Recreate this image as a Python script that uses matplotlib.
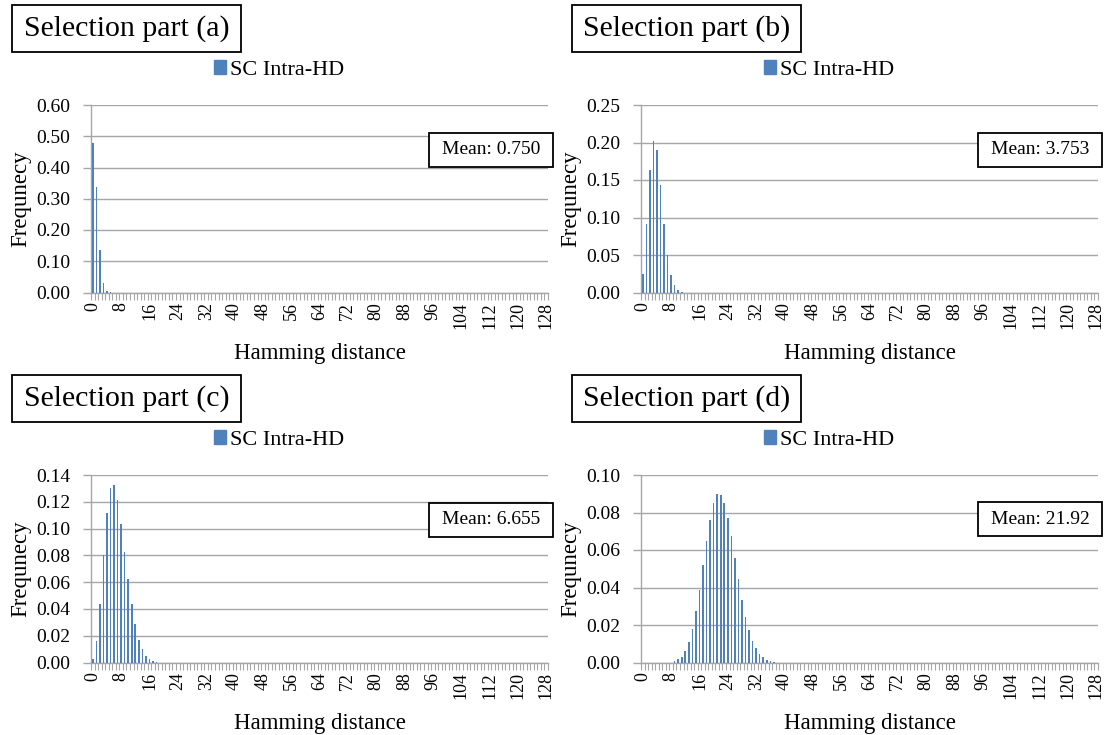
import numpy as np
import matplotlib.pyplot as plt
from matplotlib.patches import Patch, Rectangle

plt.rcParams['font.family'] = ['Liberation Serif', 'DejaVu Serif']

# Hamming distance categories 0..128
n_bits = 128
dist = np.arange(n_bits + 1)

# Frequencies (non-zero part only, starting at given distance)
start_a = 0
freq_a = [0.480, 0.338, 0.137, 0.032, 0.005, 0.001]

start_b = 0
freq_b = [0.025, 0.092, 0.164, 0.202, 0.190, 0.144, 0.091, 0.050, 0.024,
          0.010, 0.0036, 0.001]

start_c = 0
freq_c = [0.0025, 0.016, 0.0435, 0.080, 0.112, 0.130, 0.1327, 0.1215, 0.1035,
          0.0827, 0.062, 0.0435, 0.0285, 0.017, 0.0098, 0.0047, 0.0025,
          0.0012, 0.0005]

start_d = 9
freq_d = [0.0007, 0.0018, 0.003, 0.0063, 0.0109, 0.0179, 0.0275, 0.0389,
          0.052, 0.0646, 0.0759, 0.0852, 0.0898, 0.0896, 0.0852, 0.0771,
          0.0673, 0.0555, 0.0443, 0.0334, 0.0245, 0.0175, 0.0116, 0.0077,
          0.0045, 0.0027, 0.0016, 0.0007, 0.0004]

titles = ['Selection part (a)', 'Selection part (b)',
          'Selection part (c)', 'Selection part (d)']
means = ['Mean: 0.750', 'Mean: 3.753', 'Mean: 6.655', 'Mean: 21.92']
y_max = [0.60, 0.25, 0.14, 0.10]
y_step = [0.10, 0.05, 0.02, 0.02]
series_name = 'SC Intra-HD'

bar_color = '#4F81BD'
grid_color = '#A6A6A6'

W, H = 1113, 735
fig = plt.figure(figsize=(W / 100, H / 100), dpi=100)


def fx(px):
    return px / W


def fy(py):
    return 1 - py / H


def full(start, vals):
    f = np.zeros(len(dist))
    f[start:start + len(vals)] = vals
    return f


def box(x0, y0, w, h, text, size):
    fig.patches.append(Rectangle((fx(x0), fy(y0 + h)), w / W, h / H,
                                 transform=fig.transFigure, fc='white',
                                 ec='black', lw=1.3, zorder=5))
    fig.text(fx(x0 + w / 2), fy(y0 + h / 2), text, fontsize=size,
             ha='center', va='center', zorder=6)


data = [full(start_a, freq_a), full(start_b, freq_b),
        full(start_c, freq_c), full(start_d, freq_d)]

# pixel offsets of each panel (column x, row y)
offsets = [(0, 0), (550, 0), (0, 370), (550, 370)]
title_x0 = [12, 572, 12, 572]
mean_x0 = [429, 978, 429, 978]
mean_y0 = [133, 133, 503, 502]

for k in range(4):
    ox, oy = offsets[k]
    left, right = 91 + ox, 548 + ox
    top, bottom = 105 + oy, 292.5 + oy
    ax = fig.add_axes([fx(left), fy(bottom), fx(right - left), (bottom - top) / H])

    ax.bar(dist, data[k], width=0.45, color=bar_color, zorder=3)
    ax.set_xlim(-0.5, n_bits + 0.5)
    ax.set_ylim(0, y_max[k])

    yt = np.arange(0, y_max[k] + 1e-9, y_step[k])
    ax.set_yticks(yt)
    ax.set_yticklabels([f'{v:.2f}' for v in yt], fontsize=14)
    ax.yaxis.grid(True, color=grid_color, lw=1, zorder=0)
    ax.tick_params(axis='y', length=6, width=1, color=grid_color, pad=9)

    ax.set_xticks(np.arange(0, n_bits + 1, 8))
    ax.set_xticklabels([str(v) for v in range(0, n_bits + 1, 8)],
                       rotation=90, fontsize=13)
    ax.set_xticks(np.arange(-0.5, n_bits + 1, 1), minor=True)
    ax.tick_params(axis='x', which='major', length=0, pad=7)
    ax.tick_params(axis='x', which='minor', length=5, width=0.8, color=grid_color)

    for s in ['top', 'right']:
        ax.spines[s].set_visible(False)
    for s in ['left', 'bottom']:
        ax.spines[s].set_color(grid_color)
        ax.spines[s].set_linewidth(1)

    ax.set_ylabel('Frequnecy', fontsize=16.5)
    ax.yaxis.label.set_va('center')
    ax.yaxis.set_label_coords((21 + ox - left) / (right - left), 0.5)
    ax.set_xlabel('Hamming distance', fontsize=16.5)
    ax.xaxis.label.set_va('center')
    ax.xaxis.set_label_coords(0.5, -(354 + oy - bottom) / (bottom - top))

    # title box
    box(title_x0[k], 5 + oy, 229, 47, titles[k], 21.5)

    # legend
    fig.legend(handles=[Patch(color=bar_color)], labels=[series_name],
               loc='center left', bbox_to_anchor=(fx(214 + ox), fy(70 + oy)),
               frameon=False, fontsize=16, handlelength=0.55, handleheight=0.55,
               handletextpad=0.15, borderpad=0, borderaxespad=0)

    # mean box
    box(mean_x0[k], mean_y0[k], 124, 34, means[k], 14)

fig.savefig('out.png', dpi=100)
